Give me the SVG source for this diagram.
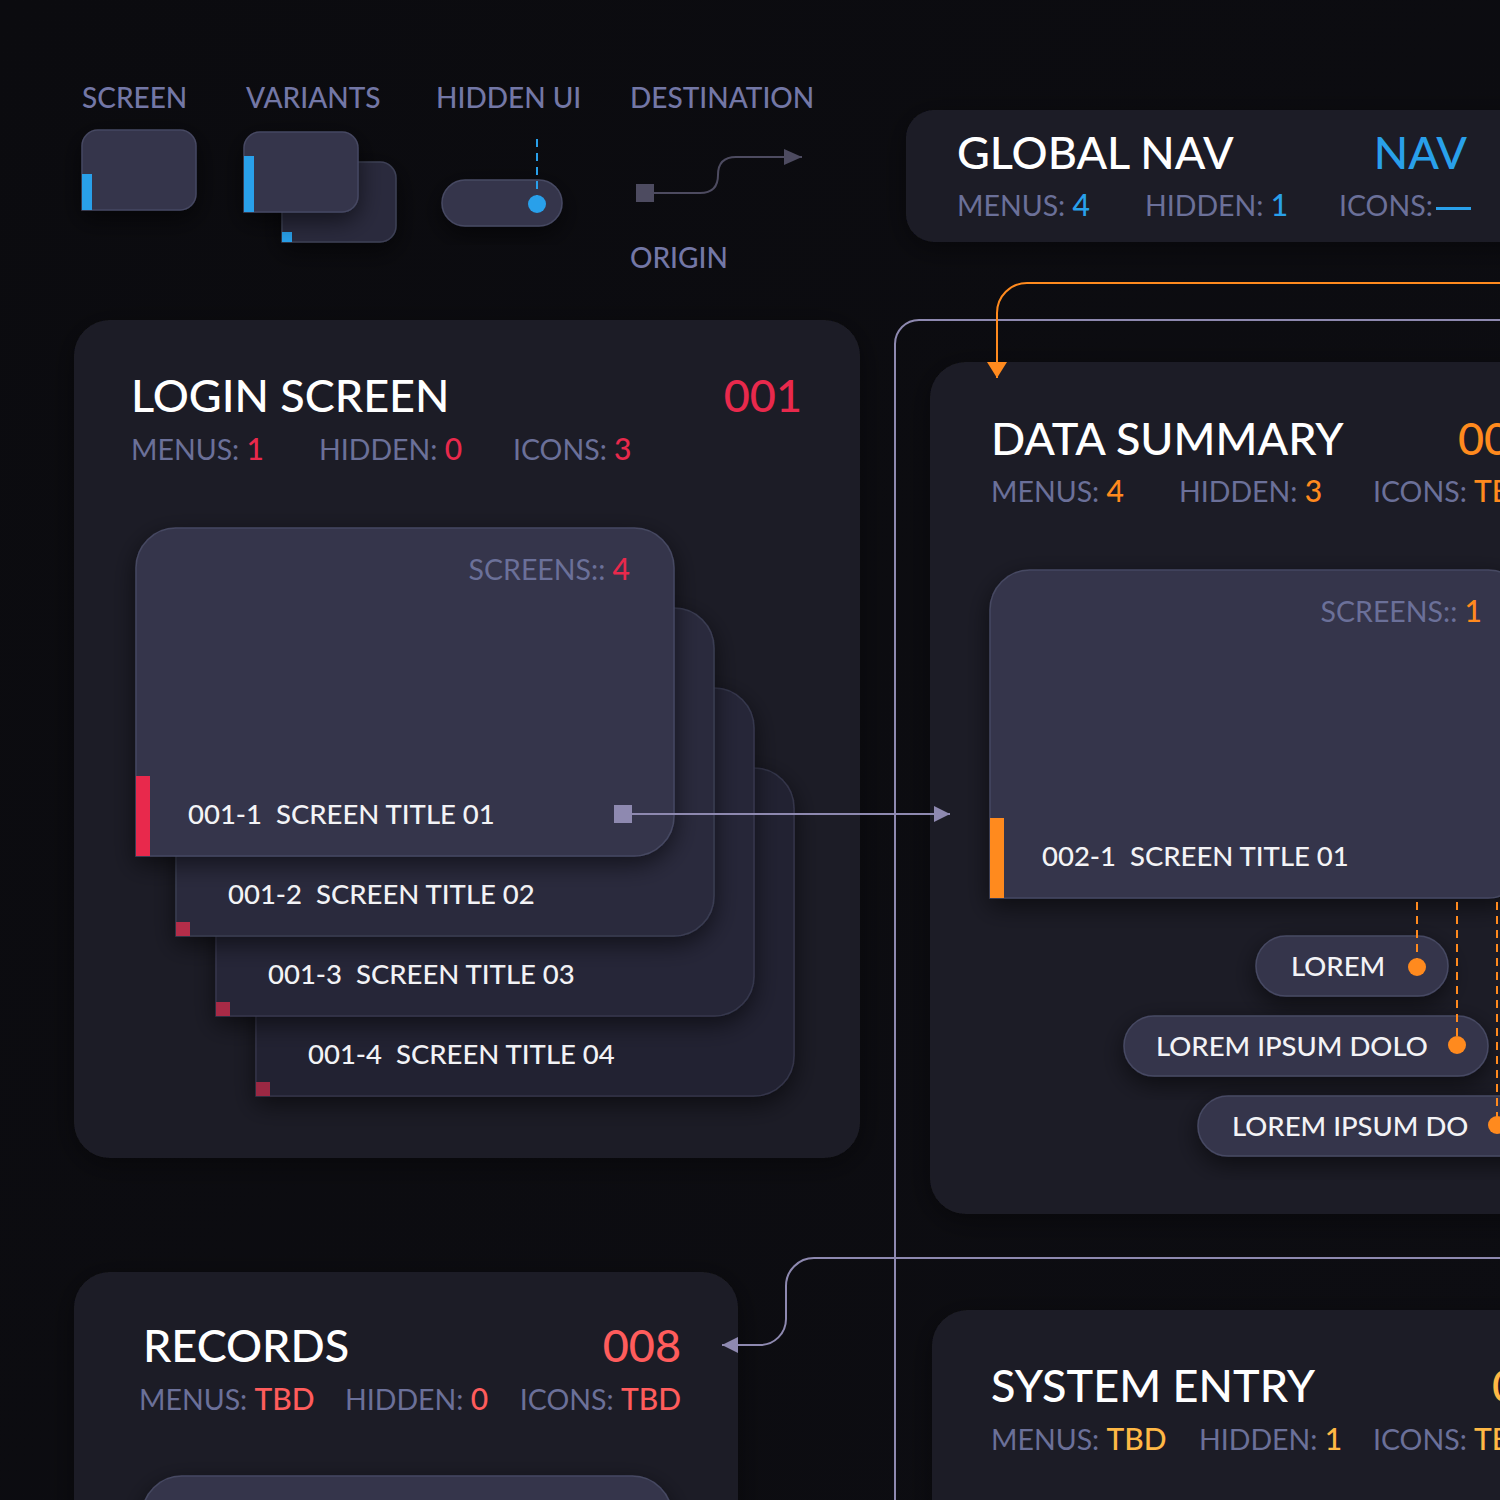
<svg xmlns="http://www.w3.org/2000/svg" width="1500" height="1500" viewBox="0 0 1500 1500">
<defs>
<style>
text{font-family:Lato,"Noto Sans","Liberation Sans",sans-serif}
.leg{font-size:28px;fill:#7377a6;font-weight:500}
.title{font-size:45px;fill:#ffffff;font-weight:500}
.lab{font-size:28.5px;fill:#6b7099}
.val{font-size:30px;font-weight:500}
.ctitle{font-size:27.5px;fill:#f3f3f6;font-weight:500;white-space:pre}
.red{fill:#e8294c}.org{fill:#ff8a1e}.blu{fill:#29a0ea}.cor{fill:#ff5c5c}.yel{fill:#ffb845}
.panel{fill:#1d1d26}
.card{fill:#35364b;stroke:#464862;stroke-width:1.5}
.pill{fill:#35364b;stroke:#474963;stroke-width:1.5}
.conn{fill:none;stroke:#8e89b0;stroke-width:2}
.dash{fill:none;stroke:#ff8a1e;stroke-width:2;stroke-dasharray:8 6}
</style>
<filter id="sh" x="-30%" y="-30%" width="160%" height="170%"><feDropShadow dx="0" dy="8" stdDeviation="12" flood-color="#000" flood-opacity="0.55"/></filter>
<filter id="shp" x="-20%" y="-20%" width="140%" height="140%"><feDropShadow dx="0" dy="6" stdDeviation="14" flood-color="#000" flood-opacity="0.4"/></filter>
<marker id="ag" viewBox="0 0 16 16" refX="16" refY="8" markerWidth="16" markerHeight="16" markerUnits="userSpaceOnUse" orient="auto"><path d="M0,0 L16,8 L0,16 Z" fill="#8e89b0"/></marker>
<marker id="ao" viewBox="0 0 16 20" refX="16" refY="10" markerWidth="16" markerHeight="20" markerUnits="userSpaceOnUse" orient="auto"><path d="M0,0 L16,10 L0,20 Z" fill="#ff8a1e"/></marker>
<marker id="al" viewBox="0 0 18 16" refX="18" refY="8" markerWidth="18" markerHeight="16" markerUnits="userSpaceOnUse" orient="auto"><path d="M0,0 L18,8 L0,16 Z" fill="#4d4b60"/></marker>
<linearGradient id="bg" x1="0" y1="0" x2="1" y2="1"><stop offset="0" stop-color="#0b0b0f"/><stop offset="1" stop-color="#0d0d12"/></linearGradient>
</defs>
<rect width="1500" height="1500" fill="url(#bg)"/>

<g id="legend">
<text class="leg" x="82" y="108">SCREEN</text>
<text class="leg" x="246" y="108">VARIANTS</text>
<text class="leg" x="436" y="108">HIDDEN UI</text>
<text class="leg" x="630" y="108">DESTINATION</text>
<text class="leg" x="630" y="268">ORIGIN</text>
<path class="card" filter="url(#sh)" d="M98,130 H180 A16,16 0 0 1 196,146 V194 A16,16 0 0 1 180,210 H82 V146 A16,16 0 0 1 98,130 Z"/>
<rect x="82" y="174" width="10" height="36" fill="#29a0ea"/>
<path fill="#2b2c3d" stroke="#3e4056" stroke-width="1.5" filter="url(#sh)" d="M298,162 H380 A16,16 0 0 1 396,178 V226 A16,16 0 0 1 380,242 H282 V178 A16,16 0 0 1 298,162 Z"/>
<rect x="282" y="232" width="10" height="10" fill="#29a0ea"/>
<path class="card" filter="url(#sh)" d="M260,132 H342 A16,16 0 0 1 358,148 V196 A16,16 0 0 1 342,212 H244 V148 A16,16 0 0 1 260,132 Z"/>
<rect x="244" y="156" width="10" height="56" fill="#29a0ea"/>
<rect class="pill" x="442" y="180" width="120" height="46" rx="23" filter="url(#sh)"/>
<line x1="537" y1="139" x2="537" y2="196" stroke="#29a0ea" stroke-width="2" stroke-dasharray="8 6"/>
<circle cx="537" cy="204" r="9" fill="#29a0ea"/>
<rect x="636" y="184" width="18" height="18" fill="#4d4b60"/>
<path d="M654,193 H700 C714,193 718,185 718,175 C718,165 722,157 736,157 H802" fill="none" stroke="#4d4b60" stroke-width="2" marker-end="url(#al)"/>
</g>

<g id="global-nav">
<rect class="panel" x="906" y="110" width="700" height="132" rx="28" filter="url(#shp)"/>
<text class="title" x="957" y="169">GLOBAL NAV</text>
<text class="title blu" x="1467" y="169" text-anchor="end">NAV</text>
<text x="957" y="216"><tspan class="lab">MENUS: </tspan><tspan class="val blu">4</tspan></text>
<text x="1145" y="216"><tspan class="lab">HIDDEN: </tspan><tspan class="val blu">1</tspan></text>
<text x="1339" y="216"><tspan class="lab">ICONS:</tspan></text>
<rect x="1436" y="207" width="35" height="3" fill="#29a0ea"/>
</g>

<g id="login-screen">
<rect class="panel" x="74" y="320" width="786" height="838" rx="36" filter="url(#shp)"/>
<text class="title" x="131" y="412">LOGIN SCREEN</text>
<text class="title red" x="802" y="412" text-anchor="end">001</text>
<text x="131" y="460"><tspan class="lab">MENUS: </tspan><tspan class="val red">1</tspan></text>
<text x="319" y="460"><tspan class="lab">HIDDEN: </tspan><tspan class="val red">0</tspan></text>
<text x="513" y="460"><tspan class="lab">ICONS: </tspan><tspan class="val red">3</tspan></text>
</g>

<g id="screen-001-4">
<path fill="#222331" stroke="#34354a" stroke-width="1.5" filter="url(#sh)" d="M296,768 H754 A40,40 0 0 1 794,808 V1056 A40,40 0 0 1 754,1096 H256 V808 A40,40 0 0 1 296,768 Z"/>
<rect x="256" y="1082" width="14" height="14" fill="#9b2843"/>
<text class="ctitle" x="308" y="1064">001-4  SCREEN TITLE 04</text>
</g>
<g id="screen-001-3">
<path fill="#262737" stroke="#36374d" stroke-width="1.5" filter="url(#sh)" d="M256,688 H714 A40,40 0 0 1 754,728 V976 A40,40 0 0 1 714,1016 H216 V728 A40,40 0 0 1 256,688 Z"/>
<rect x="216" y="1002" width="14" height="14" fill="#a82a46"/>
<text class="ctitle" x="268" y="984">001-3  SCREEN TITLE 03</text>
</g>
<g id="screen-001-2">
<path fill="#2b2c3e" stroke="#3a3c52" stroke-width="1.5" filter="url(#sh)" d="M216,608 H674 A40,40 0 0 1 714,648 V896 A40,40 0 0 1 674,936 H176 V648 A40,40 0 0 1 216,608 Z"/>
<rect x="176" y="922" width="14" height="14" fill="#b42d49"/>
<text class="ctitle" x="228" y="904">001-2  SCREEN TITLE 02</text>
</g>
<g id="screen-001-1">
<path class="card" filter="url(#sh)" d="M176,528 H634 A40,40 0 0 1 674,568 V816 A40,40 0 0 1 634,856 H136 V568 A40,40 0 0 1 176,528 Z"/>
<rect x="136" y="776" width="14" height="80" fill="#e8294c"/>
<text x="630" y="580" text-anchor="end"><tspan class="lab">SCREENS:: </tspan><tspan class="val red">4</tspan></text>
<text class="ctitle" x="188" y="824">001-1  SCREEN TITLE 01</text>
<rect x="614" y="805" width="18" height="18" fill="#8e89b0"/>
</g>

<g id="data-summary">
<rect class="panel" x="930" y="362" width="700" height="852" rx="36" filter="url(#shp)"/>
<text class="title" x="991" y="455">DATA SUMMARY</text>
<text class="title org" x="1458" y="455">002</text>
<text x="991" y="502"><tspan class="lab">MENUS: </tspan><tspan class="val org">4</tspan></text>
<text x="1179" y="502"><tspan class="lab">HIDDEN: </tspan><tspan class="val org">3</tspan></text>
<text x="1373" y="502"><tspan class="lab">ICONS: </tspan><tspan class="val org">TBD</tspan></text>
</g>
<g id="screen-002-1">
<path class="card" filter="url(#sh)" d="M1030,570 H1488 A40,40 0 0 1 1528,610 V858 A40,40 0 0 1 1488,898 H990 V610 A40,40 0 0 1 1030,570 Z"/>
<rect x="990" y="818" width="14" height="80" fill="#ff8a1e"/>
<text x="1482" y="622" text-anchor="end"><tspan class="lab">SCREENS:: </tspan><tspan class="val org">1</tspan></text>
<text class="ctitle" x="1042" y="866">002-1  SCREEN TITLE 01</text>
</g>

<g id="pill-lorem">
<rect class="pill" x="1256" y="936" width="192" height="60" rx="30" filter="url(#sh)"/>
<text class="ctitle" x="1291" y="976">LOREM</text>
<circle cx="1417" cy="967" r="9" fill="#ff8a1e"/>
</g>
<g id="pill-lorem-ipsum-dolo">
<rect class="pill" x="1124" y="1016" width="364" height="60" rx="30" filter="url(#sh)"/>
<text class="ctitle" x="1156" y="1056">LOREM IPSUM DOLO</text>
<circle cx="1457" cy="1045" r="9" fill="#ff8a1e"/>
</g>
<g id="pill-lorem-ipsum-do">
<rect class="pill" x="1198" y="1096" width="364" height="60" rx="30" filter="url(#sh)"/>
<text class="ctitle" x="1232" y="1136">LOREM IPSUM DO</text>
<circle cx="1497" cy="1125" r="9" fill="#ff8a1e"/>
</g>

<g id="records">
<rect class="panel" x="74" y="1272" width="664" height="300" rx="36" filter="url(#shp)"/>
<text class="title" x="143" y="1362">RECORDS</text>
<text class="title cor" x="681" y="1362" text-anchor="end">008</text>
<text x="139" y="1410"><tspan class="lab">MENUS: </tspan><tspan class="val cor">TBD</tspan></text>
<text x="345" y="1410"><tspan class="lab">HIDDEN: </tspan><tspan class="val cor">0</tspan></text>
<text x="681" y="1410" text-anchor="end"><tspan class="lab">ICONS: </tspan><tspan class="val cor">TBD</tspan></text>
<rect class="card" x="142" y="1476" width="530" height="120" rx="40" filter="url(#sh)"/>
</g>

<g id="system-entry">
<rect class="panel" x="932" y="1310" width="700" height="300" rx="36" filter="url(#shp)"/>
<text class="title" x="991" y="1402">SYSTEM ENTRY</text>
<text class="title yel" x="1492" y="1402">004</text>
<text x="991" y="1450"><tspan class="lab">MENUS: </tspan><tspan class="val yel">TBD</tspan></text>
<text x="1199" y="1450"><tspan class="lab">HIDDEN: </tspan><tspan class="val yel">1</tspan></text>
<text x="1373" y="1450"><tspan class="lab">ICONS: </tspan><tspan class="val yel">TBD</tspan></text>
</g>

<g id="connectors">
<path class="conn" d="M1500,320 H919 A24,24 0 0 0 895,344 V1500"/>
<path d="M1500,283 H1027 A30,30 0 0 0 997,313 V378" fill="none" stroke="#ff8a1e" stroke-width="2" marker-end="url(#ao)"/>
<path class="conn" d="M1500,1258 H814 A28,28 0 0 0 786,1286 V1319 A26,26 0 0 1 760,1345 H722" marker-end="url(#ag)"/>
<line class="conn" x1="632" y1="814" x2="950" y2="814" marker-end="url(#ag)"/>
<line class="dash" x1="1417" y1="902" x2="1417" y2="960"/>
<line class="dash" x1="1457" y1="902" x2="1457" y2="1038"/>
<line class="dash" x1="1497" y1="902" x2="1497" y2="1118"/>
</g>
</svg>
